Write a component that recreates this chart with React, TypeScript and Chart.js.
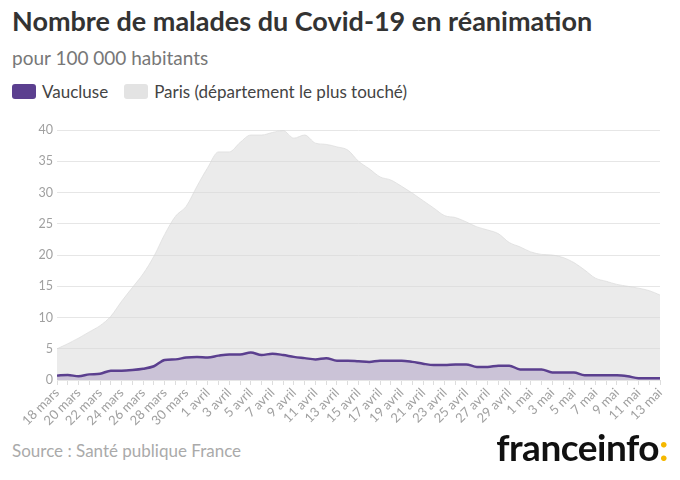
import React, { useEffect, useRef } from "react";
import { Chart, registerables } from "chart.js";

Chart.register(...registerables);

const dates: string[] = [
  "18 mars","19 mars","20 mars","21 mars","22 mars","23 mars","24 mars","25 mars","26 mars","27 mars",
  "28 mars","29 mars","30 mars","31 mars",
  "1 avril","2 avril","3 avril","4 avril","5 avril","6 avril","7 avril","8 avril","9 avril","10 avril",
  "11 avril","12 avril","13 avril","14 avril","15 avril","16 avril","17 avril","18 avril","19 avril","20 avril",
  "21 avril","22 avril","23 avril","24 avril","25 avril","26 avril","27 avril","28 avril","29 avril","30 avril",
  "1 mai","2 mai","3 mai","4 mai","5 mai","6 mai","7 mai","8 mai","9 mai","10 mai","11 mai","12 mai","13 mai",
];

const paris: number[] = [
  5.0, 5.8, 6.7, 7.7, 8.7, 10.2, 12.6, 14.8, 17.0, 19.8,
  23.3, 26.2, 27.8, 31.0, 34.0, 36.5, 36.5, 38.0, 39.2, 39.2,
  39.6, 39.9, 38.7, 39.2, 37.9, 37.7, 37.3, 36.8, 35.0, 33.8,
  32.5, 32.0, 31.0, 29.9, 28.7, 27.5, 26.3, 26.0, 25.3, 24.5,
  24.0, 23.4, 22.0, 21.3, 20.5, 20.1, 20.0, 19.6, 18.8, 17.6,
  16.3, 15.8, 15.3, 15.0, 14.7, 14.3, 13.6,
];

const vaucluse: number[] = [
  0.7, 0.8, 0.6, 0.9, 1.0, 1.5, 1.5, 1.6, 1.8, 2.2,
  3.2, 3.3, 3.6, 3.7, 3.6, 3.9, 4.1, 4.1, 4.4, 4.0,
  4.2, 4.0, 3.7, 3.5, 3.3, 3.5, 3.1, 3.1, 3.0, 2.9,
  3.1, 3.1, 3.1, 2.9, 2.6, 2.4, 2.4, 2.5, 2.5, 2.1,
  2.1, 2.3, 2.3, 1.7, 1.7, 1.7, 1.2, 1.2, 1.2, 0.75,
  0.75, 0.75, 0.75, 0.6, 0.3, 0.3, 0.3,
];

const seriesNames: string[] = ["Vaucluse", "Paris (département le plus touché)"];

const PURPLE = "#5b3f8f";
const PURPLE_FILL = "rgba(120, 90, 160, 0.28)";
const GREY_FILL = "rgba(215, 215, 215, 0.5)";
const FONT = "Lato, 'Open Sans', sans-serif";

export default function App() {
  const ref = useRef<HTMLCanvasElement | null>(null);

  useEffect(() => {
    if (!ref.current) return;
    const chart = new Chart(ref.current, {
      type: "line",
      data: {
        labels: dates,
        datasets: [
          {
            label: seriesNames[0],
            data: vaucluse,
            borderColor: PURPLE,
            backgroundColor: PURPLE_FILL,
            borderWidth: 2.5,
            fill: "origin",
            pointRadius: 0,
            cubicInterpolationMode: "monotone",
            order: 0,
          },
          {
            label: seriesNames[1],
            data: paris,
            borderColor: "rgba(215,215,215,0.6)",
            backgroundColor: GREY_FILL,
            borderWidth: 1,
            fill: "origin",
            pointRadius: 0,
            cubicInterpolationMode: "monotone",
            order: 1,
          },
        ],
      },
      options: {
        animation: false,
        responsive: false,
        maintainAspectRatio: false,
        layout: { padding: { top: 20, right: 20, left: 0, bottom: 0 } },
        plugins: {
          legend: { display: false },
          tooltip: { enabled: false },
        },
        scales: {
          x: {
            grid: {
              display: true,
              drawOnChartArea: false,
              drawTicks: true,
              tickLength: 5,
              color: "#dddddd",
            },
            border: { display: false },
            ticks: {
              autoSkip: false,
              maxRotation: 45,
              minRotation: 45,
              padding: 0,
              color: "#a0a0a0",
              font: { family: FONT, size: 13 },
              callback: (_v: any, i: number) => (i % 2 === 0 ? dates[i] : ""),
            },
            afterFit: (s: any) => {
              s.height = 60;
            },
          },
          y: {
            min: 0,
            max: 40,
            ticks: {
              stepSize: 5,
              color: "#a0a0a0",
              padding: 4,
              font: { family: FONT, size: 12.5 },
            },
            grid: { color: "#e6e6e6", drawTicks: false },
            border: { display: false },
            afterFit: (s: any) => {
              s.width = 57;
            },
          },
        },
      },
    });
    return () => chart.destroy();
  }, []);

  const legendItem = (color: string, text: string) => (
    <div style={{ display: "flex", alignItems: "center", marginRight: 16 }}>
      <div
        style={{
          width: 24,
          height: 15,
          borderRadius: 3,
          background: color,
          marginRight: 6,
        }}
      />
      <span>{text}</span>
    </div>
  );

  return (
    <div
      style={{
        position: "fixed",
        left: 0,
        top: 0,
        width: 680,
        height: 480,
        background: "#fff",
        fontFamily: FONT,
        overflow: "hidden",
      }}
    >
      <div
        style={{
          position: "absolute",
          left: 12,
          top: 4,
          fontSize: 27,
          fontWeight: 700,
          color: "#333",
          whiteSpace: "nowrap",
        }}
      >
        Nombre de malades du Covid-19 en réanimation
      </div>
      <div
        style={{
          position: "absolute",
          left: 12,
          top: 46,
          fontSize: 19,
          color: "#777",
          whiteSpace: "nowrap",
        }}
      >
        pour 100 000 habitants
      </div>
      <div
        style={{
          position: "absolute",
          left: 12,
          top: 81,
          fontSize: 17,
          color: "#444",
          display: "flex",
          whiteSpace: "nowrap",
        }}
      >
        {legendItem(PURPLE, seriesNames[0])}
        {legendItem("#e3e3e3", seriesNames[1])}
      </div>
      <canvas
        ref={ref}
        width={680}
        height={330}
        style={{ position: "absolute", left: 0, top: 110, width: 680, height: 330 }}
      />
      <div
        style={{
          position: "absolute",
          left: 12,
          top: 440,
          fontSize: 17,
          color: "#aaa",
          whiteSpace: "nowrap",
        }}
      >
        Source : Santé publique France
      </div>
      <div
        style={{
          position: "absolute",
          right: 12,
          top: 424,
          fontSize: 37,
          fontWeight: 700,
          color: "#111",
          letterSpacing: -0.5,
          whiteSpace: "nowrap",
        }}
      >
        franceinfo<span style={{ color: "#f5b800" }}>:</span>
      </div>
    </div>
  );
}
